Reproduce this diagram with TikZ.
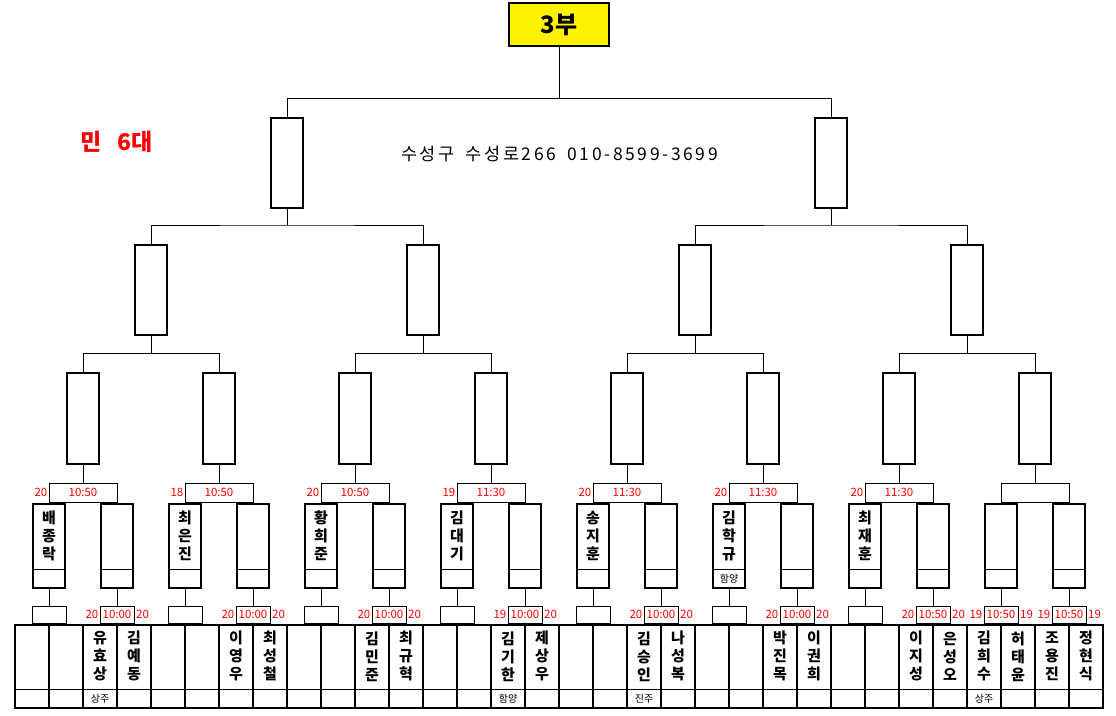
\documentclass[tikz,border=0pt]{standalone}
\usepackage{fontspec}
\setmainfont{Noto Sans CJK KR}
\newfontfamily\addrfont[LetterSpace=15,WordSpace=1.7]{Noto Sans CJK KR}
\begin{document}
\begin{tikzpicture}[x=1pt,y=-1pt,
  box/.style={draw, line width=2pt, inner sep=0pt, outer sep=0pt, minimum width=32pt},
  hdr/.style={draw, line width=0.8pt, inner sep=0pt, outer sep=0pt},
  split/.style={path picture={\draw[line width=0.8pt] ([yshift=#1]path picture bounding box.south west) -- ([yshift=#1]path picture bounding box.south east);}},
  pname/.style={font=\fontsize{15}{18}\selectfont\bfseries, align=center, inner sep=0pt},
  region/.style={font=\fontsize{10}{12}\selectfont, inner sep=0pt},
  num/.style={font=\fontsize{11.5}{12}\selectfont, text=red, inner sep=0pt},
  wire/.style={line width=0.8pt}]
\useasboundingbox (0,0) rectangle (1116,715);

% title and notes
\node[box, fill=yellow, minimum width=100pt, minimum height=43pt, font=\fontsize{24}{28}\selectfont\bfseries] (top) at (559,24.5) {3부};
\node[text=red, font=\fontsize{23}{26}\selectfont\bfseries, inner sep=0pt] (min) at (117,141.5) {민\hspace{16pt}6대};
\node[font=\addrfont\fontsize{17.5}{20}\selectfont, inner sep=0pt] (addr) at (559.5,154) {수성구 수성로266 010-8599-3699};

% level boxes
\foreach \h in {0,1} \node[box, minimum height=90pt] (L1-\h) at ({287+544*\h},163) {};
\foreach \i in {0,...,3} \node[box, minimum height=90pt] (L2-\i) at ({151+272*\i},290) {};
\foreach \j in {0,...,7} \node[box, minimum height=91pt] (L3-\j) at ({83+136*\j},418.8) {};
\foreach \j in {0,...,7} \node[hdr, minimum width=68pt, minimum height=19pt] (H4-\j) at ({83+136*\j},492.8) {};
\foreach \k in {0,...,15} \node[box, split=18.4pt, minimum height=84pt] (L4-\k) at ({49+68*\k},545.7) {};
\foreach \k in {0,...,15} \node[hdr, minimum width=34pt, minimum height=17.5pt] (HB-\k) at ({49+68*\k},614.8) {};
\foreach \c in {0,...,31} \node[box, split=18.4pt, minimum width=34pt, minimum height=83pt] (C-\c) at ({32+34*\c},666.2) {};

% connectors
\foreach \k in {0,...,15} \draw[wire] (HB-\k.north) -- (L4-\k.south);
\foreach \j in {0,...,7} \draw[wire] (H4-\j.north) -- (L3-\j.south);
\foreach \i in {0,...,3} {
  \pgfmathtruncatemacro\a{2*\i}
  \pgfmathtruncatemacro\b{2*\i+1}
  \coordinate (J3-\i) at ({151+272*\i},353.3);
  \draw[wire] (L3-\a.north) |- (J3-\i) -| (L3-\b.north);
  \draw[wire] (J3-\i) -- (L2-\i.south);
}
\foreach \h in {0,1} {
  \pgfmathtruncatemacro\a{2*\h}
  \pgfmathtruncatemacro\b{2*\h+1}
  \coordinate (J2-\h) at ({287+544*\h},225);
  \draw[wire] (L2-\a.north) |- (J2-\h) -| (L2-\b.north);
  \draw[wire] (J2-\h) -- (L1-\h.south);
}
\coordinate (J1) at (559,98.3);
\draw[wire] (L1-0.north) |- (J1) -| (L1-1.north);
\draw[wire] (J1) -- (top.south);

% level-4 header numbers and times
\foreach \j/\n/\t in {0/20/10:50,1/18/10:50,2/20/10:50,3/19/11:30,4/20/11:30,5/20/11:30,6/20/11:30} {
  \node[num, anchor=east] (H4n-\j) at ([xshift=-1.5pt]H4-\j.west) {\n};
  \node[num] (H4t-\j) at (H4-\j) {\t};
}
% bottom header numbers and times
\foreach \k/\l/\t/\r in {1/20/10:00/20,3/20/10:00/20,5/20/10:00/20,7/19/10:00/20,9/20/10:00/20,11/20/10:00/20,13/20/10:50/20,14/19/10:50/19,15/19/10:50/19} {
  \node[num, anchor=east] (HBl-\k) at ([xshift=-1.5pt]HB-\k.west) {\l};
  \node[num] (HBt-\k) at (HB-\k) {\t};
  \node[num, anchor=west] (HBr-\k) at ([xshift=2pt]HB-\k.east) {\r};
}

% level-4 names
\foreach \k/\nm in {0/배\\종\\락,2/최\\은\\진,4/황\\희\\준,6/김\\대\\기,8/송\\지\\훈,10/김\\학\\규,12/최\\재\\훈} {
  \node[pname] (N4-\k) at ({49+68*\k},536) {\nm};
}
\node[region] (R4-10) at ({49+68*10},579) {함양};

% bottom names
\foreach \c/\nm in {2/유\\효\\상,3/김\\예\\동,6/이\\영\\우,7/최\\성\\철,10/김\\민\\준,11/최\\규\\혁,14/김\\기\\한,15/제\\상\\우,18/김\\승\\인,19/나\\성\\복,22/박\\진\\목,23/이\\권\\희,26/이\\지\\성,27/은\\성\\오,28/김\\희\\수,29/허\\태\\윤,30/조\\용\\진,31/정\\현\\식} {
  \node[pname] (NB-\c) at ({32+34*\c},656.3) {\nm};
}
\foreach \c/\rg in {2/상주,14/함양,18/진주,28/상주} {
  \node[region] (RB-\c) at ({32+34*\c},699) {\rg};
}
\end{tikzpicture}
\end{document}
